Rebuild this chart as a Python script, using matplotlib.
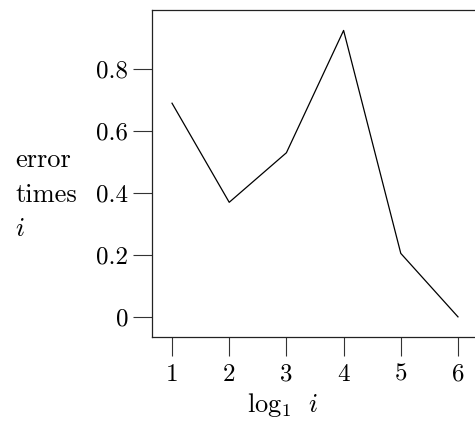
import matplotlib
matplotlib.use("Agg")
import matplotlib.pyplot as plt

x = [1, 2, 3, 4, 5, 6]
y = [0.69, 0.37, 0.53, 0.925, 0.205, 0.0]
yticks = [0, 0.2, 0.4, 0.6, 0.8]
yticklabels = ["0", "0.2", "0.4", "0.6", "0.8"]

plt.rcParams['font.family'] = 'serif'
plt.rcParams['font.serif'] = ['cmr10']
plt.rcParams['mathtext.fontset'] = 'cm'
plt.rcParams['axes.formatter.use_mathtext'] = True

W, H = 475, 425
fig = plt.figure(figsize=(W/100, H/100), dpi=100)
L, R, T, B = 152, 478, 10, 337
ax = fig.add_axes([L/W, 1 - B/H, (R-L)/W, (B-T)/H])
ax.plot(x, y, color='black', lw=0.9)
ax.set_xlim(0.65, 6.35)
ax.set_ylim(-0.065, 0.991)
ax.set_xticks(x)
ax.set_xticklabels([str(v) for v in x])
ax.set_yticks(yticks)
ax.set_yticklabels(yticklabels)
ax.tick_params(direction='out', length=14, width=0.8, labelsize=18, pad=3, color='#333333')
ax.tick_params(axis='x', pad=5)
for s in ax.spines.values():
    s.set_linewidth(0.9)
    s.set_color('#222222')

fig.text(283/W, 1 - 405/H, r'$\log_1\ \, i$', ha='center', va='center', fontsize=19)
fig.text(15/W, 1 - 195/H, 'error\ntimes\n$i$', ha='left', va='center', fontsize=19, linespacing=1.58)

fig.savefig('out.png', dpi=100)
